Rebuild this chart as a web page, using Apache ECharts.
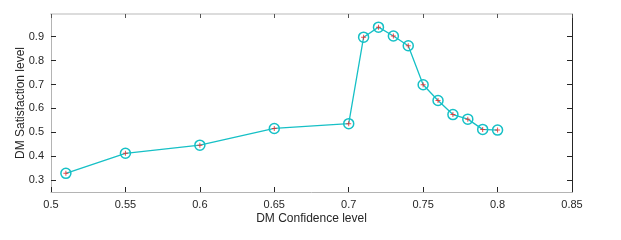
<!DOCTYPE html>
<html>
<head>
<meta charset="utf-8">
<script src="https://cdn.jsdelivr.net/npm/echarts@6/dist/echarts.min.js"></script>
<style>html,body{margin:0;padding:0;background:#fff}#c{width:621px;height:240px}</style>
</head>
<body>
<div id="c"></div>
<script>
const confidence = [0.51, 0.55, 0.60, 0.65, 0.70, 0.71, 0.72, 0.73, 0.74, 0.75, 0.76, 0.77, 0.78, 0.79, 0.80];
const satisfaction = [0.328, 0.412, 0.446, 0.516, 0.536, 0.898, 0.940, 0.903, 0.862, 0.699, 0.633, 0.574, 0.555, 0.512, 0.509];
const yTicks = [0.3, 0.4, 0.5, 0.6, 0.7, 0.8, 0.9];
const xName = 'DM Confidence level';
const yName = 'DM Satisfaction level';

const pts = confidence.map((x, i) => [x, satisfaction[i]]);
const font = 'Liberation Sans, Arial, Helvetica, sans-serif';
const dark = '#262626';
const fmt = v => String(Math.round(v * 1000) / 1000);

const chart = echarts.init(document.getElementById('c'), null, {renderer: 'canvas'});
chart.setOption({
  animation: false,
  grid: {left: 51, right: 49, top: 14, bottom: 48},
  xAxis: [{
    type: 'value', position: 'bottom', min: 0.5, max: 0.85, interval: 0.05,
    name: xName, nameLocation: 'middle', nameGap: 21, nameMoveOverlap: false,
    nameTextStyle: {fontFamily: font, fontSize: 12, color: dark},
    axisLine: {show: true, lineStyle: {color: '#b4b4b4', width: 1}},
    axisTick: {show: true, inside: true, length: 5, lineStyle: {color: dark}},
    axisLabel: {margin: 7, fontFamily: font, fontSize: 11, color: dark, formatter: fmt},
    splitLine: {show: false}
  }, {
    type: 'value', position: 'top', min: 0.5, max: 0.85, interval: 0.05,
    axisLine: {show: true, lineStyle: {color: '#dcdcdc', width: 2}},
    axisTick: {show: true, inside: true, length: 4, lineStyle: {color: '#555'}},
    axisLabel: {show: false},
    splitLine: {show: false}
  }],
  yAxis: [{
    type: 'value', position: 'left', min: 0.25, max: 0.995,
    name: yName, nameLocation: 'middle', nameGap: 24, nameMoveOverlap: false,
    nameTextStyle: {fontFamily: font, fontSize: 12, color: dark},
    axisLine: {show: true, lineStyle: {color: '#b4b4b4', width: 1}},
    axisTick: {show: true, inside: true, length: 5, customValues: yTicks, lineStyle: {color: dark}},
    axisLabel: {margin: 7, fontFamily: font, fontSize: 11, color: dark, customValues: yTicks, formatter: fmt},
    splitLine: {show: false}
  }, {
    type: 'value', position: 'right', min: 0.25, max: 0.995,
    axisLine: {show: true, lineStyle: {color: dark, width: 1}},
    axisTick: {show: true, inside: true, length: 5, customValues: yTicks, lineStyle: {color: dark}},
    axisLabel: {show: false, customValues: yTicks},
    splitLine: {show: false}
  }],
  series: [{
    type: 'line', data: pts, xAxisIndex: 0, yAxisIndex: 0,
    symbol: 'circle', symbolSize: 10,
    lineStyle: {color: '#16c0c6', width: 1.3},
    itemStyle: {color: 'rgba(0,0,0,0)', borderColor: '#16c0c6', borderWidth: 1.5},
    z: 2
  }, {
    type: 'scatter', data: pts, xAxisIndex: 0, yAxisIndex: 0,
    symbol: 'path://M2,0h1v2h2v1h-2v2h-1v-2h-2v-1h2z', symbolSize: 5,
    itemStyle: {color: '#ee2222'},
    z: 3
  }]
});
</script>
</body>
</html>
